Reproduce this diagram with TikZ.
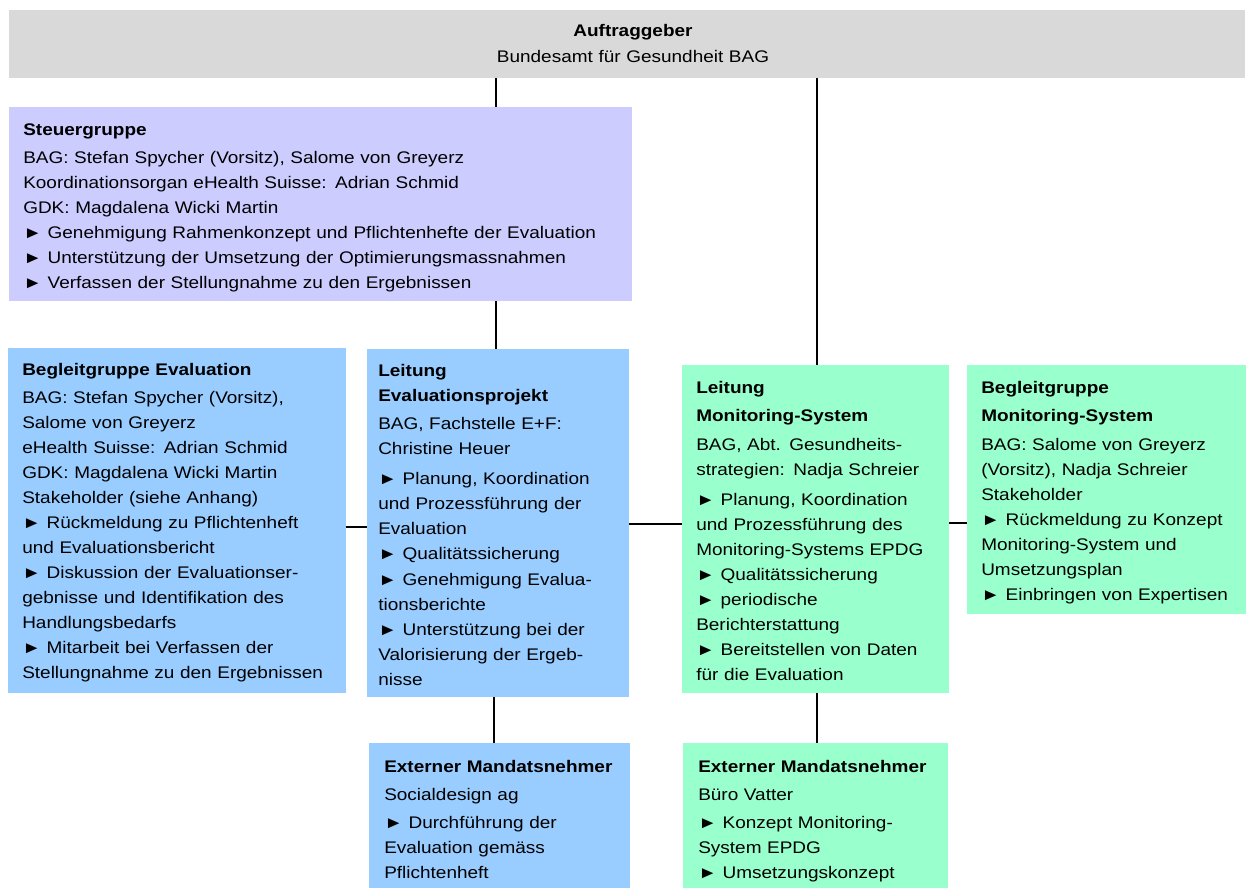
\documentclass[tikz,border=0pt]{standalone}
\usepackage{fontspec}
\setmainfont{Liberation Sans}[FakeStretch=1.13]
\usetikzlibrary{fit}
\definecolor{cgray}{HTML}{D9D9D9}
\definecolor{clav}{HTML}{CCCCFF}
\definecolor{cblue}{HTML}{99CCFF}
\definecolor{cgreen}{HTML}{99FFCC}
\begin{document}
\begin{tikzpicture}[x=0.75pt,y=-0.75pt,
  box/.style={inner sep=0pt,outer sep=0pt,draw=none},
  txt/.style={anchor=base west,inner sep=0pt,align=left,text width=450pt,
    font=\fontsize{12.6}{18.75}\selectfont},
  ctxt/.style={anchor=base,inner sep=0pt,align=center,text width=400pt,
    font=\fontsize{12.6}{18.75}\selectfont},
  conn/.style={draw=black,line width=1.1pt}]
\useasboundingbox (0,0) rectangle (1246,888);
% box corners
\coordinate (t1) at (9,10);    \coordinate (t2) at (1245,78);
\coordinate (s1) at (9,107);   \coordinate (s2) at (632,301);
\coordinate (be1) at (8,348);  \coordinate (be2) at (346,693);
\coordinate (le1) at (367,349);\coordinate (le2) at (629,697);
\coordinate (lm1) at (682,365);\coordinate (lm2) at (949,693);
\coordinate (bm1) at (967,365);\coordinate (bm2) at (1246,614);
\coordinate (ee1) at (369,743);\coordinate (ee2) at (630,888);
\coordinate (em1) at (683,743);\coordinate (em2) at (948,888);
\node[box,fill=cgray,fit=(t1)(t2)] (top) {};
\node[box,fill=clav,fit=(s1)(s2)] (steuer) {};
\node[box,fill=cblue,fit=(be1)(be2)] (begE) {};
\node[box,fill=cblue,fit=(le1)(le2)] (leitE) {};
\node[box,fill=cgreen,fit=(lm1)(lm2)] (leitM) {};
\node[box,fill=cgreen,fit=(bm1)(bm2)] (begM) {};
\node[box,fill=cblue,fit=(ee1)(ee2)] (extE) {};
\node[box,fill=cgreen,fit=(em1)(em2)] (extM) {};
% connectors
\coordinate (xa) at (496,0);
\coordinate (xb) at (817,0);
\coordinate (xc) at (494,0);
\coordinate (ya) at (0,527);
\coordinate (yb) at (0,524);
\coordinate (yc) at (0,523);
\draw[conn] (xa |- top.south) -- (xa |- steuer.north);
\draw[conn] (xa |- steuer.south) -- (xa |- leitE.north);
\draw[conn] (xb |- top.south) -- (xb |- leitM.north);
\draw[conn] (begE.east |- ya) -- (leitE.west |- ya);
\draw[conn] (leitE.east |- yb) -- (leitM.west |- yb);
\draw[conn] (leitM.east |- yc) -- (begM.west |- yc);
\draw[conn] (xc |- leitE.south) -- (xc |- extE.north);
\draw[conn] (xb |- leitM.south) -- (xb |- extM.north);
% texts
\node[ctxt] (ttop) at (633,37) {\textbf{Auftraggeber}\\[0.75pt]Bundesamt für Gesundheit BAG};
\node[txt] (tsteuer) at (23,136) {\textbf{Steuergruppe}\\[2.25pt]
BAG: Stefan Spycher (Vorsitz), Salome von Greyerz\\
Koordinationsorgan eHealth Suisse: Adrian Schmid\\
GDK: Magdalena Wicki Martin\\
► Genehmigung Rahmenkonzept und Pflichtenhefte der Evaluation\\
► Unterstützung der Umsetzung der Optimierungsmassnahmen\\
► Verfassen der Stellungnahme zu den Ergebnissen};
\node[txt] (tbegE) at (22,375) {\textbf{Begleitgruppe Evaluation}\\[2.25pt]
BAG: Stefan Spycher (Vorsitz),\\
Salome von Greyerz\\
eHealth Suisse: Adrian Schmid\\
GDK: Magdalena Wicki Martin\\
Stakeholder (siehe Anhang)\\
► Rückmeldung zu Pflichtenheft\\
und Evaluationsbericht\\
► Diskussion der Evaluationser-\\
gebnisse und Identifikation des\\
Handlungsbedarfs\\
► Mitarbeit bei Verfassen der\\
Stellungnahme zu den Ergebnissen};
\node[txt] (tleitE) at (378,376) {\textbf{Leitung}\\
\textbf{Evaluationsprojekt}\\[2.25pt]
BAG, Fachstelle E+F:\\
Christine Heuer\\[3.75pt]
► Planung, Koordination\\
und Prozessführung der\\
Evaluation\\
► Qualitätssicherung\\[0.75pt]
► Genehmigung Evalua-\\
tionsberichte\\
► Unterstützung bei der\\
Valorisierung der Ergeb-\\
nisse};
\node[txt] (tleitM) at (696,393) {\textbf{Leitung}\\[2.6pt]
\textbf{Monitoring-System}\\[3pt]
BAG, Abt. Gesundheits-\\
strategien: Nadja Schreier\\[3.75pt]
► Planung, Koordination\\
und Prozessführung des\\
Monitoring-Systems EPDG\\
► Qualitätssicherung\\
► periodische\\
Berichterstattung\\
► Bereitstellen von Daten\\
für die Evaluation};
\node[txt] (tbegM) at (981,393) {\textbf{Begleitgruppe}\\[2.6pt]
\textbf{Monitoring-System}\\[3pt]
BAG: Salome von Greyerz\\
(Vorsitz), Nadja Schreier\\
Stakeholder\\
► Rückmeldung zu Konzept\\
Monitoring-System und\\
Umsetzungsplan\\
► Einbringen von Expertisen};
\node[txt] (textE) at (384,772) {\textbf{Externer Mandatsnehmer}\\[2.25pt]
Socialdesign ag\\[2.25pt]
► Durchführung der\\
Evaluation gemäss\\
Pflichtenheft};
\node[txt] (textM) at (698,772) {\textbf{Externer Mandatsnehmer}\\[2.25pt]
Büro Vatter\\[2.25pt]
► Konzept Monitoring-\\
System EPDG\\
► Umsetzungskonzept};
\end{tikzpicture}
\end{document}
